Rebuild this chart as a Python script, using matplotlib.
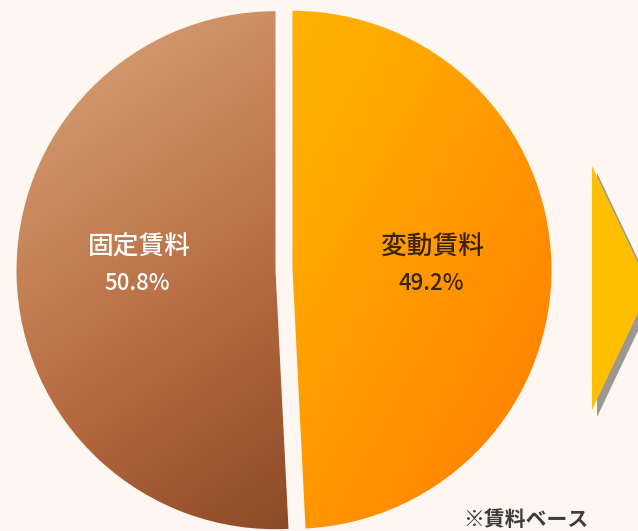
import numpy as np
import matplotlib
matplotlib.use("Agg")
import matplotlib.pyplot as plt
from matplotlib.colors import LinearSegmentedColormap
from matplotlib.patches import Polygon

plt.rcParams['font.family'] = ['Noto Sans CJK JP', 'DejaVu Sans']

# data
labels = ['変動賃料', '固定賃料']
shares = [49.2, 50.8]
note = '※賃料ベース'

bg = '#FEF7F1'
grad_colors = [['#FFC800', '#FFA800', '#FF7800'],
               ['#DEAA7E', '#B5693F', '#6A3216']]
grad_dirs = [(1.0, -0.55), (0.7, -1.0)]
text_colors = ['#3A2408', 'white']

fig = plt.figure(figsize=(6.38, 5.31), dpi=100, facecolor=bg)
ax = fig.add_axes([0, 0, 1, 1])
ax.set_facecolor(bg)

cx, cy, r = 284, 261, 259
wedges, _ = ax.pie(shares, center=(cx, cy), radius=r, startangle=90,
                   counterclock=False, explode=[8.5, 8.5],
                   wedgeprops=dict(facecolor='none', edgecolor='none'),
                   frame=True)
ax.set_xlim(0, 638)
ax.set_ylim(0, 531)
ax.set_aspect('equal')
ax.axis('off')

# gradient fills clipped to each wedge
for w, cols, (dx, dy) in zip(wedges, grad_colors, grad_dirs):
    cmap = LinearSegmentedColormap.from_list('g', cols)
    x0, y0, x1, y1 = cx - r - 20, cy - r - 20, cx + r + 20, cy + r + 20
    xs = np.linspace(x0, x1, 300)
    ys = np.linspace(y0, y1, 300)
    X, Y = np.meshgrid(xs, ys)
    t = (X - x0) * dx + (Y - y1) * dy
    t = (t - t.min()) / (t.max() - t.min())
    im = ax.imshow(t, cmap=cmap, extent=(x0, x1, y0, y1), origin='lower',
                   interpolation='bilinear', zorder=1)
    im.set_clip_path(w)

# labels
label_pos = [(433, 266), (139, 266)]
for (lx, ly), name, val, col in zip(label_pos, labels, shares, text_colors):
    ax.text(lx, ly + 18, name, ha='center', va='center', fontsize=18.5,
            fontweight='medium', color=col, zorder=3)
    ax.text(lx - 2, ly - 18, f'{val}%', ha='center', va='center',
            fontsize=16, fontweight='medium', color=col, zorder=3)

# arrow with shadow
tri = [(592, 531 - 166), (650, 531 - 288), (592, 531 - 410)]
shadow = [(x + 5, y - 7) for x, y in tri]
ax.add_patch(Polygon(shadow, closed=True, facecolor='#9B9792',
                     edgecolor='none', zorder=1))
ax.add_patch(Polygon(tri, closed=True, facecolor='#FFBE00',
                     edgecolor='none', zorder=2))

ax.text(526, 12, note, ha='center', va='center', fontsize=15,
        fontweight='bold', color='#3C3C3C', zorder=3)

fig.savefig('out.png', dpi=100, facecolor=bg)
